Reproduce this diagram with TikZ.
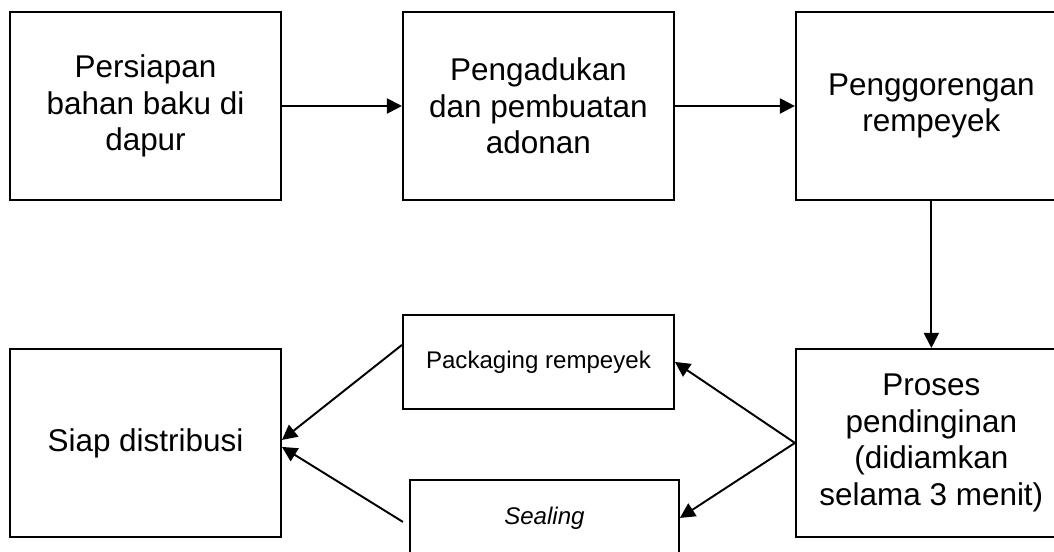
\documentclass[tikz,border=0pt]{standalone}
\usepackage{fontspec}
\setmainfont{Liberation Sans}
\usetikzlibrary{arrows.meta, positioning, calc}

\begin{document}
\begin{tikzpicture}[node distance=2.94cm and 2.4cm,
                    >={Triangle[length=0.3cm, width=0.3cm]},
                    line width=1.1pt,
                    process_box/.style={rectangle, draw, align=center, minimum height=3.76cm, minimum width=5.42cm, font=\fontsize{17.9}{20.9}\selectfont},
                    pack_box/.style={rectangle, draw, align=center, minimum height=1.88cm, minimum width=5.42cm, font=\fontsize{13.7}{15.7}\selectfont},
                    ]

    % picture frame (right and bottom boxes are cut off)
    \clip (0,0) rectangle (21.08,-11.04);

    % Production steps
    \node[process_box] (persiapan) at (2.91,-2.12) {Persiapan\\bahan baku di\\dapur};
    \node[process_box, right=of persiapan] (pengadukan) {Pengadukan\\dan pembuatan\\adonan};
    \node[process_box, right=of pengadukan] (penggorengan) {Penggorengan\\rempeyek};
    \node[process_box, below=of penggorengan] (pendinginan) {Proses\\pendinginan\\(didiamkan\\selama 3 menit)};
    \node[process_box, below=of persiapan] (distribusi) {Siap distribusi};

    % Packaging steps
    \node[pack_box, right=of distribusi, yshift=1.62cm] (packaging) {Packaging rempeyek};
    \node[pack_box, right=of distribusi, xshift=0.14cm, yshift=-1.5cm, minimum height=1.52cm, minimum width=5.38cm] (sealing) {\itshape Sealing};

    % Main flow
    \draw[->] (persiapan) -- (pengadukan);
    \draw[->] (pengadukan) -- (penggorengan);
    \draw[->] (penggorengan) -- (pendinginan);

    % Cooling to packaging
    \draw[->] (pendinginan.west) -- (packaging.east);
    \draw[->] (pendinginan.west) -- (sealing.east);

    % Packaging to distribution
    \draw[->] ($(packaging.west) + (0,0.34)$) -- ($(distribusi.east) + (0,0.06)$);
    \draw[->] ($(sealing.west) + (-0.12,-0.08)$) -- ($(distribusi.east) + (0,-0.08)$);

\end{tikzpicture}
\end{document}
